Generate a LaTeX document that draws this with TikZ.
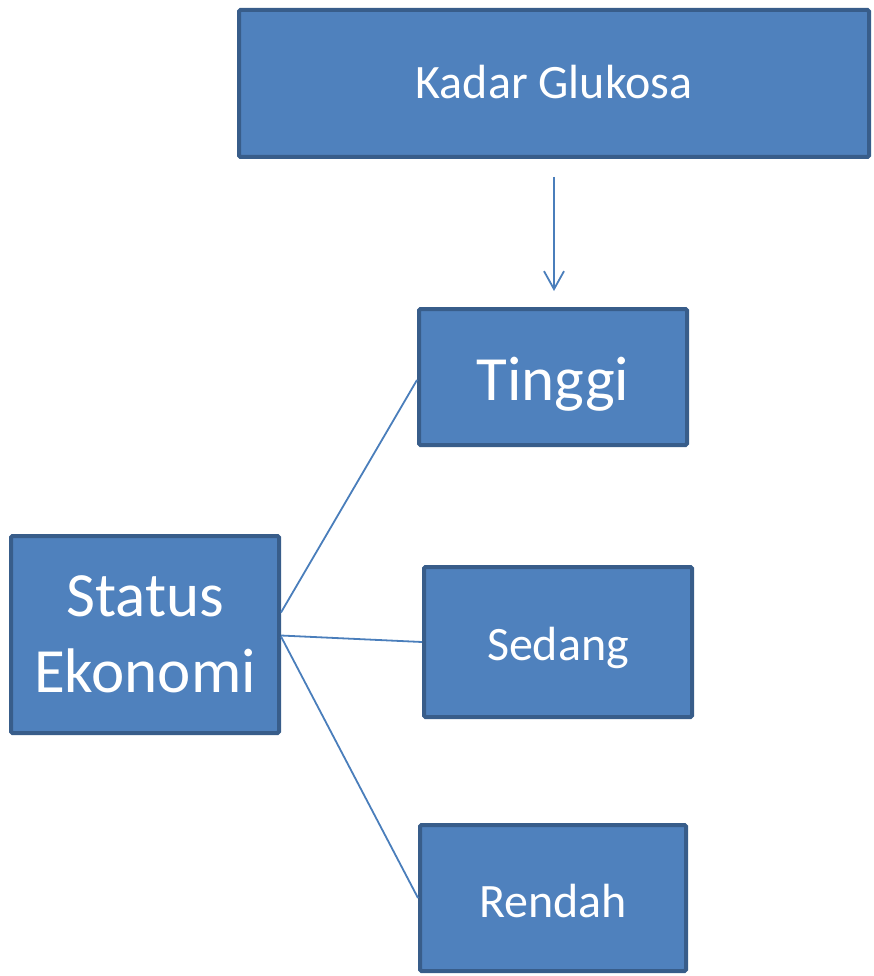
\documentclass[tikz,border=0pt]{standalone}
\usepackage{fontspec}
\setmainfont{Carlito}
\usetikzlibrary{arrows.meta}
\definecolor{boxfill}{HTML}{4F81BD}
\definecolor{boxline}{HTML}{385D8A}
\definecolor{connc}{HTML}{4A7EBB}
\begin{document}
\begin{tikzpicture}[x=1pt,y=-1pt,
  box/.style={draw=boxline, fill=boxfill, line width=4pt, rounded corners=1.5pt,
    inner sep=0pt, text=white, align=center},
  smalltxt/.style={font=\fontsize{48}{58}\selectfont},
  bigtxt/.style={font=\fontsize{63}{76}\selectfont},
  conn/.style={draw=connc, line width=1.8pt}]
\useasboundingbox (0,0) rectangle (873,976);
\node[box, smalltxt, minimum width=630pt, minimum height=147pt, text height=31pt, text depth=0pt] (kadar) at (554,83.5) {Kadar Glukosa};
\node[box, bigtxt, minimum width=268pt, minimum height=136pt, text height=46pt, text depth=0pt] (tinggi) at (553,377) {Tinggi};
\node[box, smalltxt, minimum width=268pt, minimum height=150pt, text height=36pt, text depth=0pt] (sedang) at (558,642) {Sedang};
\node[box, smalltxt, minimum width=266pt, minimum height=146pt, text height=38pt, text depth=0pt] (rendah) at (553,898) {Rendah};
\node[box, bigtxt, minimum width=268pt, minimum height=197pt] (status) at (145,634.5) {Status\\Ekonomi};
\draw[conn, -{Straight Barb[length=18pt, width=20pt]}, shorten <=18pt, shorten >=16pt]
  (kadar.south) -- (kadar.south |- tinggi.north);
\draw[conn] ([yshift=22pt]status.east) -- ([yshift=-3pt]tinggi.west);
\draw[conn] ([yshift=-1pt]status.east) -- (sedang.west);
\draw[conn] ([yshift=-2pt]status.east) -- (rendah.west);
\end{tikzpicture}
\end{document}
